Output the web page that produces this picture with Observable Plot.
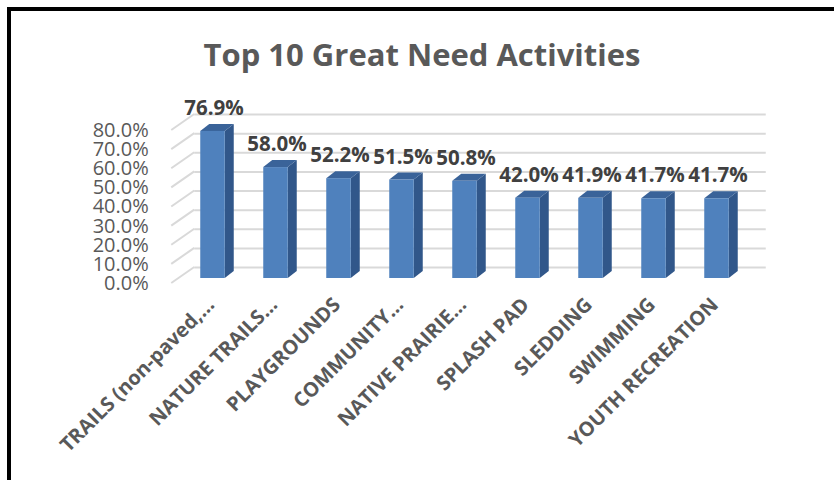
<!DOCTYPE html>
<html><head><meta charset="utf-8">
<script src="https://cdn.jsdelivr.net/npm/d3@7"></script>
<script src="https://cdn.jsdelivr.net/npm/@observablehq/plot@0.6"></script>
<style>
html,body{margin:0;padding:0;background:#fff;}
#wrap{position:relative;width:834px;height:480px;overflow:hidden;font-family:"Open Sans",sans-serif;}
#frame{position:absolute;left:7px;top:7px;width:840px;height:490px;border-left:4px solid #000;border-top:4px solid #000;}
#title{position:absolute;left:5px;width:834px;top:32px;text-align:center;font-weight:700;font-size:31px;color:#595959;line-height:44px;}
#chart{position:absolute;left:0;top:0;}
</style></head><body>
<div id="wrap"><div id="frame"></div><div id="chart"></div><div id="title">Top 10 Great Need Activities</div></div>
<script>
const categories = ["TRAILS (non-paved,…", "NATURE TRAILS…", "PLAYGROUNDS", "COMMUNITY…", "NATIVE PRAIRIE…", "SPLASH PAD", "SLEDDING", "SWIMMING", "YOUTH RECREATION"];
const values = [76.9, 58.0, 52.2, 51.5, 50.8, 42.0, 41.9, 41.7, 41.7];
const yTicks = [0, 10, 20, 30, 40, 50, 60, 70, 80];

const data = categories.map((c, i) => ({category: c, value: values[i]}));
const fmt = v => v.toFixed(1) + "%";

const FRONT = "#4F81BD", SIDE = "#31578A", TOP = "#3A6399";
const DX = 9, DY = -7;

function sideWall(index, scales, channels, dims) {
  const g = d3.create("svg:g").attr("stroke", "#d9d9d9").attr("stroke-width", 2);
  const x0 = dims.marginLeft;
  for (const t of yTicks) {
    const y = scales.y(t);
    g.append("line").attr("x1", x0 - 7).attr("y1", y + 5).attr("x2", x0 + 16).attr("y2", y - 11);
  }
  return g.node();
}

function barFaces(index, scales) {
  const g = d3.create("svg:g");
  const step = scales.x(categories[1]) - scales.x(categories[0]);
  const inset = 19.25;
  for (const d of data) {
    const x0 = scales.x(d.category) + inset, x1 = scales.x(d.category) + step - inset;
    const yt = scales.y(d.value), yb = scales.y(0);
    g.append("path").attr("fill", SIDE)
      .attr("d", `M${x1},${yt}L${x1 + DX},${yt + DY}L${x1 + DX},${yb + DY}L${x1},${yb}Z`);
    g.append("path").attr("fill", TOP)
      .attr("d", `M${x0},${yt}L${x1},${yt}L${x1 + DX},${yt + DY}L${x0 + DX},${yt + DY}Z`);
  }
  return g.node();
}

const chart = Plot.plot({
  width: 834,
  height: 480,
  marginLeft: 178.25,
  marginRight: 84.25,
  marginTop: 125,
  marginBottom: 202,
  style: {background: "transparent", fontFamily: "'Open Sans', sans-serif"},
  x: {type: "band", domain: categories, padding: 0, axis: null},
  y: {domain: [0, 80], axis: null},
  marks: [
    Plot.ruleY(yTicks, {y: d => d, stroke: "#d9d9d9", strokeWidth: 2, dx: 16, dy: -11}),
    sideWall,
    barFaces,
    Plot.barY(data, {x: "category", y: "value", fill: FRONT, insetLeft: 19.25, insetRight: 19.25}),
    Plot.text(data, {x: "category", y: "value", text: d => fmt(d.value), dy: -23, dx: 1, fontWeight: 700, fontSize: 20.5, fill: "#404040"}),
    Plot.text(yTicks, {y: d => d, frameAnchor: "left", text: d => fmt(d), textAnchor: "end", dx: -30, dy: 5, fontSize: 20, fill: "#595959"}),
    Plot.text(categories, {x: d => d, frameAnchor: "bottom", text: d => d, rotate: -45, textAnchor: "end", dx: 2.5, dy: 27.5, fontWeight: 700, fontSize: 20, fill: "#595959"})
  ]
});
document.getElementById("chart").appendChild(chart);
</script>
</body></html>
